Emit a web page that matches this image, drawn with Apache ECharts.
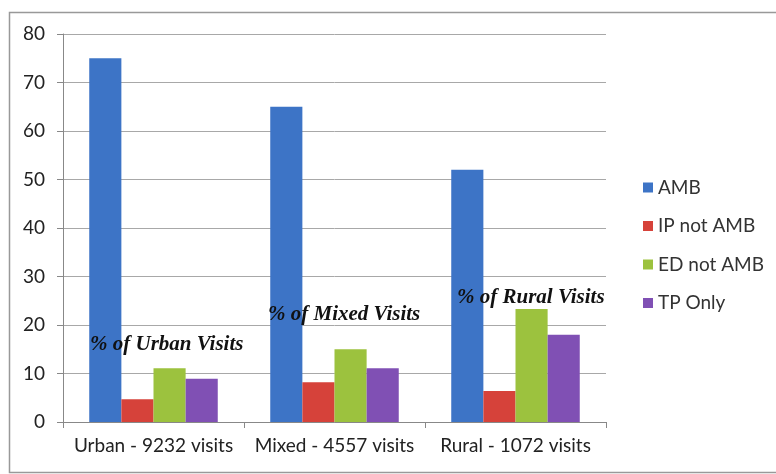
<!DOCTYPE html>
<html>
<head>
<meta charset="utf-8">
<script src="https://cdn.jsdelivr.net/npm/echarts@6/dist/echarts.min.js"></script>
<style>
  html, body { margin: 0; padding: 0; background: #fff; }
  #chart { width: 776px; height: 474px; }
</style>
</head>
<body>
<div id="chart"></div>
<script>
// 数据
const categories = ["Urban - 9232 visits", "Mixed - 4557 visits", "Rural - 1072 visits"];
const seriesNames = ["AMB", "IP not AMB", "ED not AMB", "TP Only"];
const amb = [75, 65, 52];
const ipNotAmb = [4.7, 8.2, 6.4];
const edNotAmb = [11.1, 15, 23.3];
const tpOnly = [8.9, 11.1, 18];
const notes = ["% of Urban Visits", "% of Mixed Visits", "% of Rural Visits"];

const colors = ["#3d74c6", "#d6423a", "#9cc23e", "#8050b4"];
const allData = [amb, ipNotAmb, edNotAmb, tpOnly];

const myChart = echarts.init(document.getElementById("chart"));

const noteStyle = {
  fontFamily: "Liberation Serif",
  fontStyle: "italic",
  fontWeight: "bold",
  fontSize: 21,
  fill: "#111",
};

myChart.setOption({
  animation: false,
  color: colors,
  grid: { left: 63, right: 170, top: 34, bottom: 52 },
  legend: {
    orient: "vertical",
    left: 638,
    top: 173,
    itemWidth: 10,
    itemHeight: 10,
    itemGap: 19.5,
    icon: "rect",
    data: seriesNames,
    textStyle: { fontFamily: "Lato", fontSize: 19, color: "#333" },
  },
  xAxis: {
    type: "category",
    data: categories,
    axisLine: { lineStyle: { color: "#888" } },
    axisTick: { show: true, length: 6, lineStyle: { color: "#888" } },
    axisLabel: {
      interval: 0,
      hideOverlap: false,
      fontFamily: "Lato",
      fontSize: 19,
      color: "#222",
      margin: 14,
    },
  },
  yAxis: {
    type: "value",
    min: 0,
    max: 80,
    interval: 10,
    axisLine: { show: true, lineStyle: { color: "#888" } },
    axisTick: { show: true, length: 6, lineStyle: { color: "#888" } },
    axisLabel: { fontFamily: "Lato", fontSize: 19, color: "#222", margin: 18 },
    splitLine: { lineStyle: { color: "#a8a8a8" } },
  },
  series: seriesNames.map((name, i) => ({
    name: name,
    type: "bar",
    data: allData[i],
    barGap: "0%",
    barCategoryGap: "29%",
  })),
  graphic: [
    {
      type: "rect",
      left: 7,
      top: 10,
      z: 100,
      shape: { width: 800, height: 460 },
      style: { fill: "none", stroke: "#999", lineWidth: 1.5 },
      silent: true,
    },
    { type: "text", z: 100, left: 90, top: 334, style: Object.assign({ text: notes[0] }, noteStyle) },
    { type: "text", z: 100, left: 268, top: 304, style: Object.assign({ text: notes[1] }, noteStyle) },
    { type: "text", z: 100, left: 457, top: 287, style: Object.assign({ text: notes[2] }, noteStyle) },
  ],
});
</script>
</body>
</html>
